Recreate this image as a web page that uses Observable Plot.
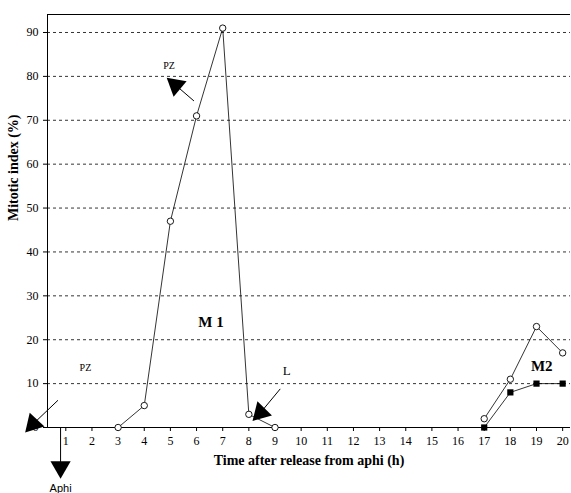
<!DOCTYPE html>
<html><head>
<script src="https://cdn.jsdelivr.net/npm/d3@7"></script>
<script src="https://cdn.jsdelivr.net/npm/@observablehq/plot@0.6"></script>
<style>body{margin:0;background:#fff} svg{font-family:"Liberation Serif",serif}</style>
</head><body><div id="chart"></div>
<script>
const m1Hours = [3, 4, 5, 6, 7, 8];
const m1Index = [0, 5, 47, 71, 91, 3];
const tailHours = [8, 9];
const tailIndex = [3, 0];
const m2Hours = [17, 18, 19, 20];
const m2Open = [2, 11, 23, 17];
const m2Filled = [0, 8, 10, 10];
const gridLevels = [10, 20, 30, 40, 50, 60, 70, 80, 90];
const smallLabels = [
  {x: 4.95, y: 82.5, t: "PZ", s: 10},
  {x: 1.75, y: 13.5, t: "PZ", s: 10},
  {x: 9.45, y: 12.8, t: "L", s: 13}
];
const boldLabels = [
  {x: 6.55, y: 24, t: "M 1"},
  {x: 19.2, y: 14, t: "M2"}
];
const arrows = [
  {x1: 5.9, y1: 74.4, x2: 5.2, y2: 78.0, r: -50},
  {x1: 0.7, y1: 6.2, x2: -0.25, y2: 0.8, r: -137},
  {x1: 9.2, y1: 8.8, x2: 8.45, y2: 3.4, r: -136},
  {x1: 0.8, y1: 0, x2: 0.8, y2: -9, r: 180}
];

const pts = (xs, ys) => xs.map((x, i) => ({x, y: ys[i]}));
const plot = Plot.plot({
  width: 571, height: 493,
  marginLeft: 47, marginRight: 1, marginTop: 14, marginBottom: 66,
  x: {domain: [0.3, 20.3], ticks: d3.range(1, 21), tickSize: 4, label: null},
  y: {domain: [0, 94.1], ticks: [0].concat(gridLevels), tickSize: 4, label: null},
  style: {fontSize: "12px", fontFamily: "Liberation Serif, serif", color: "#000"},
  marks: [
    Plot.ruleY(gridLevels, {strokeDasharray: "3,3", stroke: "#000", strokeWidth: 0.8}),
    Plot.ruleY([94.1], {stroke: "#000"}),
    Plot.ruleY([0], {stroke: "#000"}),
    Plot.ruleX([0.3], {stroke: "#000"}),
    Plot.line(pts(m1Hours, m1Index), {x: "x", y: "y", stroke: "#000", strokeWidth: 0.8}),
    Plot.line(pts(tailHours, tailIndex), {x: "x", y: "y", stroke: "#000", strokeWidth: 0.8}),
    Plot.line(pts(m2Hours, m2Open), {x: "x", y: "y", stroke: "#000", strokeWidth: 0.8}),
    Plot.line(pts(m2Hours, m2Filled), {x: "x", y: "y", stroke: "#000", strokeWidth: 0.8}),
    Plot.dot(pts(m1Hours.concat([9]), m1Index.concat([0])), {x: "x", y: "y", r: 3.2, fill: "#fff", stroke: "#000", strokeWidth: 0.9}),
    Plot.dot(pts(m2Hours, m2Open), {x: "x", y: "y", r: 3.2, fill: "#fff", stroke: "#000", strokeWidth: 0.9}),
    Plot.dot(pts(m2Hours, m2Filled), {x: "x", y: "y", r: 3.5, symbol: "square", fill: "#000"}),
    Plot.link(arrows, {x1: "x1", y1: "y1", x2: "x2", y2: "y2", stroke: "#000", clip: false}),
    Plot.dot(arrows, {x: "x2", y: "y2", symbol: "triangle", r: 7.5, rotate: "r", fill: "#000", clip: false}),
    Plot.text(smallLabels, {x: "x", y: "y", text: "t", fontSize: d => d.s}),
    Plot.text(boldLabels, {x: "x", y: "y", text: "t", fontSize: 15, fontWeight: "bold"}),
    Plot.text(["Time after release from aphi (h)"], {frameAnchor: "bottom", dy: 37, fontSize: 14, fontWeight: "bold"}),
    Plot.text(["Mitotic index (%)"], {frameAnchor: "left", dx: -34, rotate: -90, fontSize: 14, fontWeight: "bold"}),
    Plot.text(["Aphi"], {x: 0.8, y: 0, dy: 61, fontSize: 11, fontFamily: "Liberation Sans, sans-serif"})
  ]
});
document.querySelector("#chart").append(plot);
</script></body></html>
